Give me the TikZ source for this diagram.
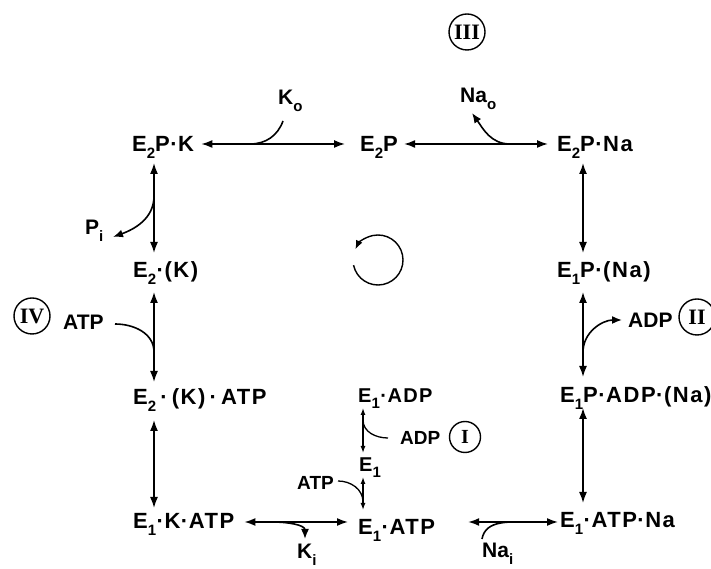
\documentclass[tikz,border=0pt]{standalone}
\usepackage{fontspec}
\newfontfamily\lab{Liberation Sans}[LetterSpace=7]
\newfontfamily\labn{Liberation Sans}
\newfontfamily\numfnt{Liberation Serif}
\usetikzlibrary{arrows.meta,calc}
\newcommand\sbs[1]{\raisebox{-0.3em}{\fontsize{15}{15}\selectfont #1}}
\newcommand\dt{\kern0.5pt·\kern0.5pt}
\begin{document}
\begin{tikzpicture}[x=1pt,y=1pt,
  txt/.style={font=\lab\bfseries\fontsize{22}{24}\selectfont, inner sep=0pt, anchor=base west},
  stxt/.style={txt, font=\lab\bfseries\fontsize{20}{22}\selectfont},
  lig/.style={txt, font=\labn\bfseries\fontsize{21}{23}\selectfont},
  slig/.style={txt, font=\labn\bfseries\fontsize{19}{21}\selectfont},
  rn/.style={draw, circle, line width=1.4pt, minimum size=36pt, inner sep=0pt, font=\numfnt\bfseries\fontsize{22}{22}\selectfont},
  conn/.style={line width=1.6pt},
  dbl/.style={conn, {Latex[length=11pt,width=8pt]}-{Latex[length=11pt,width=8pt]}},
  one/.style={conn, -{Latex[length=10pt,width=8pt]}},
  thin/.style={line width=1.3pt},
  sdbl/.style={thin, {Latex[length=7pt,width=5pt]}-{Latex[length=7pt,width=5pt]}},
]
\useasboundingbox (0,0) rectangle (711,569);
% species
\node[txt] (E2PK) at (132,417) {E\sbs{2}P\dt K};
\node[txt] (E2P) at (360,417) {E\sbs{2}P};
\node[txt] (E2PNa) at (557,417) {E\sbs{2}P\dt Na};
\node[txt] (E2K) at (133,291) {E\sbs{2}\dt(K)};
\node[txt] (E1PNa) at (557,291) {E\sbs{1}P\dt(Na)};
\node[txt] (E2KATP) at (133,164) {E\sbs{2}\,\dt\,(K)\,\dt\,ATP};
\node[txt] (E1PADPNa) at (560,166) {E\sbs{1}P\dt ADP\dt(Na)};
\node[stxt] (E1ADP) at (358,166) {E\sbs{1}\dt ADP};
\node[stxt] (E1) at (359,97) {E\sbs{1}};
\node[txt] (E1KATP) at (133,40) {E\sbs{1}\dt K\dt ATP};
\node[txt] (E1ATP) at (358,34) {E\sbs{1}\dt ATP};
\node[txt] (E1ATPNa) at (560,41) {E\sbs{1}\dt ATP\dt Na};
% ligands
\node[lig] (Ko) at (278,464) {K\sbs{o}};
\node[lig] (Nao) at (460,466) {Na\sbs{o}};
\node[lig] (Pi) at (85,334) {P\sbs{i}};
\node[lig] (ATPl) at (63,239) {ATP};
\node[lig] (ADPr) at (628,241) {ADP};
\node[lig] (Ki) at (297,10) {K\sbs{i}};
\node[lig] (Nai) at (482,11) {Na\sbs{i}};
\node[slig] (ADPc) at (400,124) {ADP};
\node[slig] (ATPc) at (297,79) {ATP};
% circled numerals
\node[rn] (cIII) at (467,537) {III};
\node[rn] (cIV) at (32,253) {IV};
\node[rn] (cII) at (697,252) {II};
\node[rn, minimum size=31pt, font=\numfnt\bfseries\fontsize{20}{20}\selectfont] (cI) at (465,132) {I};
% columns
\coordinate (cL) at (154,0);
\coordinate (cR) at (583,0);
\coordinate (cC) at (363,0);
% horizontal reactions
\draw[dbl] ($(E2PK.base east)+(7,8)$) -- ($(E2P.base west)+(-15,8)$);
\draw[dbl] ($(E2P.base east)+(6,8)$) -- ($(E2PNa.base west)+(-9,8)$);
\draw[dbl] ($(E1KATP.base east)+(10,7)$) -- ($(E1ATP.base west)+(-10,13)$);
\draw[dbl] ($(E1ATP.base east)+(33,13)$) -- ($(E1ATPNa.base west)+(-2,6)$);
% left column
\draw[dbl] ($(E2PK.base -| cL)+(0,-11)$) -- ($(E2K.base -| cL)+(0,25)$);
\draw[dbl] ($(E2K.base -| cL)+(0,-14)$) -- ($(E2KATP.base -| cL)+(0,23)$);
\draw[dbl] ($(E2KATP.base -| cL)+(0,-15)$) -- ($(E1KATP.base -| cL)+(0,21)$);
% right column
\draw[dbl] ($(E2PNa.base -| cR)+(0,-11)$) -- ($(E1PNa.base -| cR)+(0,25)$);
\draw[dbl] ($(E1PNa.base -| cR)+(0,-14)$) -- ($(E1PADPNa.base -| cR)+(0,26)$);
\draw[dbl] ($(E1PADPNa.base -| cR)+(0,-5)$) -- ($(E1ATPNa.base -| cR)+(0,25)$);
% centre branch
\draw[sdbl] ($(E1ADP.base -| cC)+(0,-5)$) -- ($(E1.base -| cC)+(0,19)$);
\draw[sdbl] ($(E1.base -| cC)+(0,-5)$) -- ($(E1ATP.base -| cC)+(0,25)$);
% ligand curves
\coordinate (koS) at (283,448); \coordinate (koJ) at (250,425);
\draw[conn] (koS) to[out=-110,in=0] (koJ);
\coordinate (naJ) at (510,425); \coordinate (naT) at (472,456);
\draw[one] (naJ) to[out=180,in=-55] (naT);
\coordinate (piJ) at (154,373); \coordinate (piT) at (113,332);
\draw[one] (piJ) to[out=-90,in=20] (piT);
\coordinate (atS) at (115,245); \coordinate (atJ) at (154,217);
\draw[conn] (atS) to[out=0,in=90] (atJ);
\coordinate (adJ) at (583,217); \coordinate (adT) at (622,249);
\draw[one] (adJ) to[out=90,in=180] (adT);
\coordinate (kiJ) at (273,47); \coordinate (kiT) at (305,30);
\draw[one] (kiJ) to[out=0,in=90] (kiT);
\coordinate (niS) at (482,30); \coordinate (niJ) at (530,47);
\draw[conn] (niS) to[out=80,in=180] (niJ);
\coordinate (adcS) at (388,131); \coordinate (adcJ) at (363,149);
\draw[thin] (adcS) to[out=180,in=-90] (adcJ);
\coordinate (atcS) at (338,88); \coordinate (atcJ) at (363,67);
\draw[thin] (atcS) to[out=0,in=90] (atcJ);
% cycle direction
\coordinate (rot) at (378,309);
\draw[line width=1.4pt, -{Latex[length=9pt,width=7pt]}] ($(rot)+(192:25)$) arc[start angle=192, end angle=515, radius=25];
\end{tikzpicture}
\end{document}
